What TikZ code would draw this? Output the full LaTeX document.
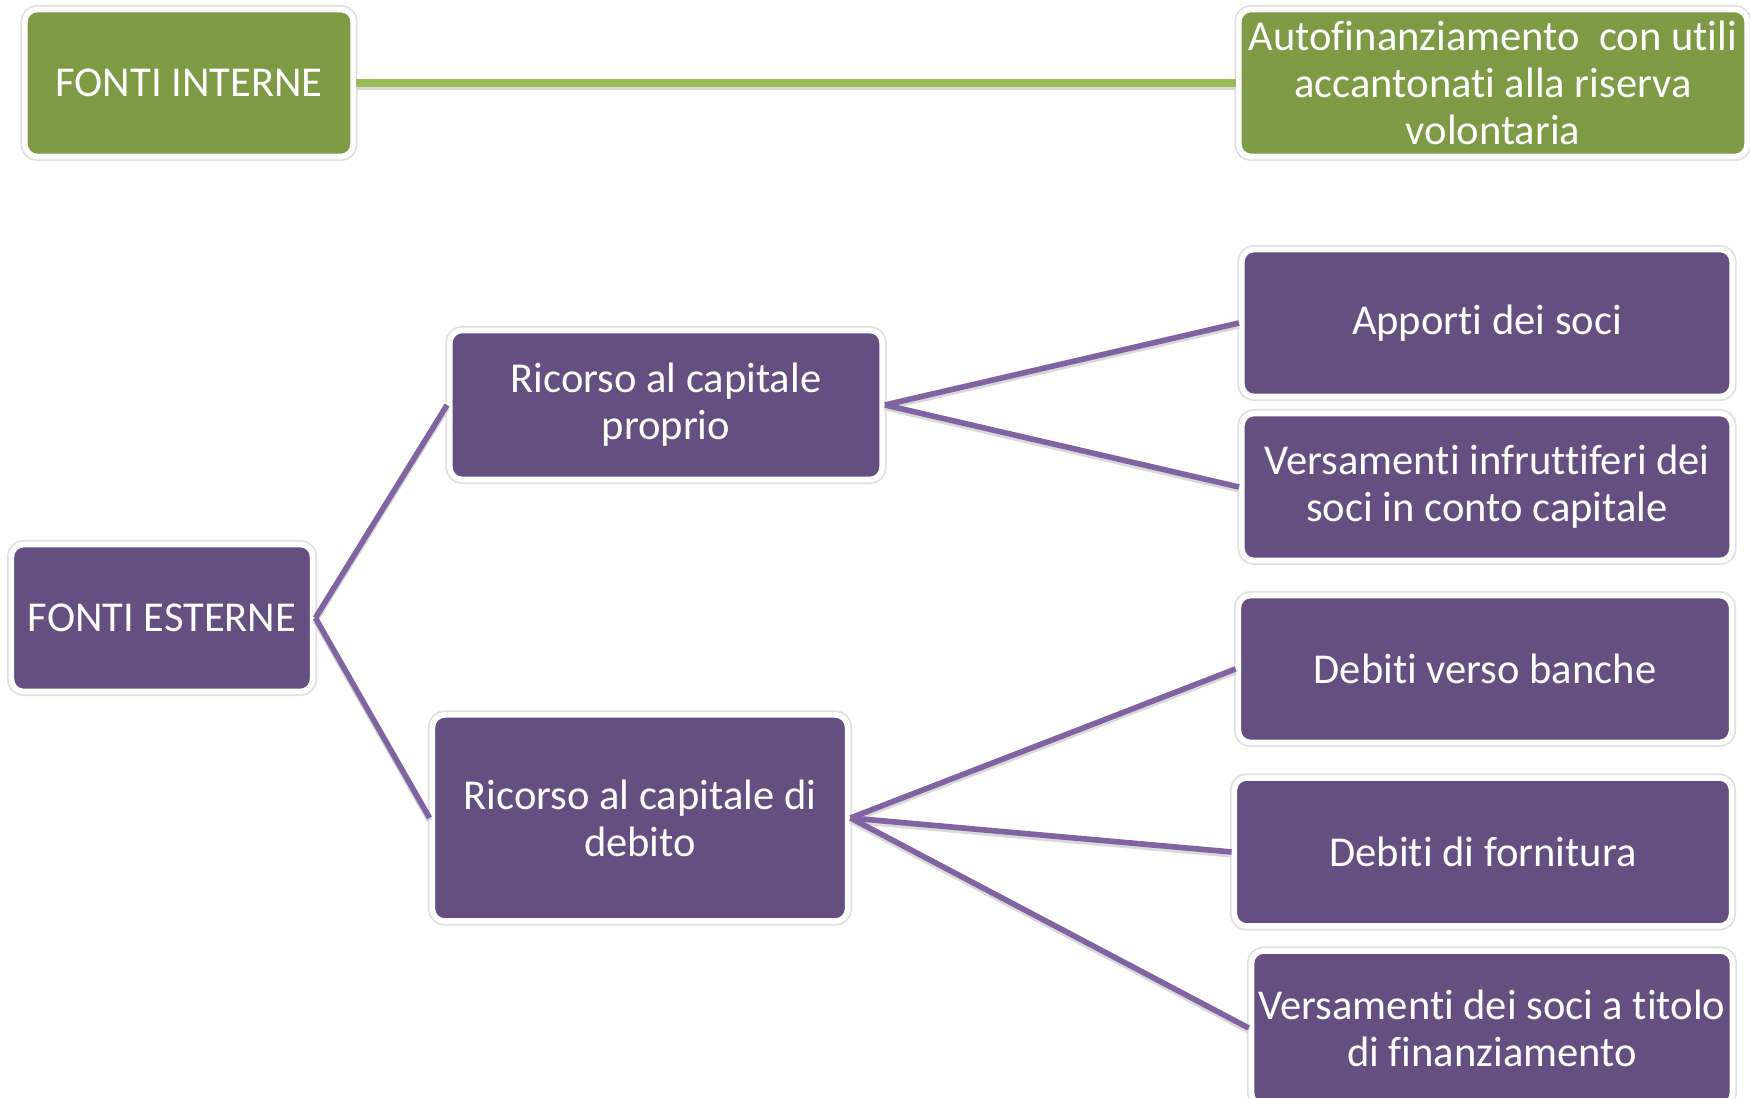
\documentclass[tikz,border=0pt]{standalone}
\usepackage{fontspec}
\setmainfont{Carlito}[Ligatures=NoCommon]
\usepackage{tikz}

\definecolor{boxviola}{RGB}{101,79,129}
\definecolor{lineaviola}{RGB}{128,100,162}
\definecolor{boxverde}{RGB}{126,154,68}
\definecolor{lineaverde}{RGB}{155,187,89}

\begin{document}
\begin{tikzpicture}[x=0.01cm,y=-0.01cm,
  box/.style={shape=rectangle,rounded corners=3.5pt,fill=boxviola,draw=white,line width=1.6pt,
    preaction={draw=black!12,line width=2.6pt},
    text=white,align=center,inner sep=2pt,font=\fontsize{12.1}{13.4}\selectfont},
  boxv/.style={box,fill=boxverde},
  ramo/.style={draw=lineaviola,line width=1.6pt,preaction={draw=black!15,line width=1.6pt,transform canvas={yshift=-0.8pt}}},
  ramov/.style={draw=lineaverde,line width=2.3pt,preaction={draw=black!15,line width=2.3pt,transform canvas={yshift=-0.8pt}}}]
\useasboundingbox (0,0) rectangle (1750,1098);

\node[boxv,minimum width=3.28cm,minimum height=1.47cm] (FI) at (189,83) {FONTI INTERNE};
\node[boxv,minimum width=5.08cm,minimum height=1.47cm] (AU) at (1493,83) {Autofinanziamento~~con utili\\accantonati alla riserva\\volontaria};

\node[box,minimum width=3.01cm,minimum height=1.47cm] (FE) at (162,618) {FONTI ESTERNE};
\node[box,minimum width=4.32cm,minimum height=1.49cm] (RP) at (666,405) {Ricorso al capitale\\proprio};
\node[box,minimum width=4.15cm,minimum height=2.06cm] (RD) at (640,818) {Ricorso al capitale di\\debito};

\node[box,minimum width=4.90cm,minimum height=1.47cm] (AP) at (1487,323) {Apporti dei soci};
\node[box,minimum width=4.90cm,minimum height=1.47cm] (VI) at (1487,487) {Versamenti infruttiferi dei\\soci in conto capitale};
\node[box,minimum width=4.93cm,minimum height=1.47cm] (DB) at (1485,669) {Debiti verso banche};
\node[box,minimum width=4.97cm,minimum height=1.48cm] (DF) at (1483,852) {Debiti di fornitura};
\node[box,minimum width=4.80cm,minimum height=1.54cm] (VT) at (1492,1028) {Versamenti dei soci a titolo\\di finanziamento};

\path[ramov] (FI) -- (AU);
\path[ramo] (FE.east) -- (RP.west);
\path[ramo] (FE.east) -- (RD.west);
\path[ramo] (RP.east) -- (AP.west);
\path[ramo] (RP.east) -- (VI.west);
\path[ramo] (RD.east) -- (DB.west);
\path[ramo] (RD.east) -- (DF.west);
\path[ramo] (RD.east) -- (VT.west);
\end{tikzpicture}
\end{document}
